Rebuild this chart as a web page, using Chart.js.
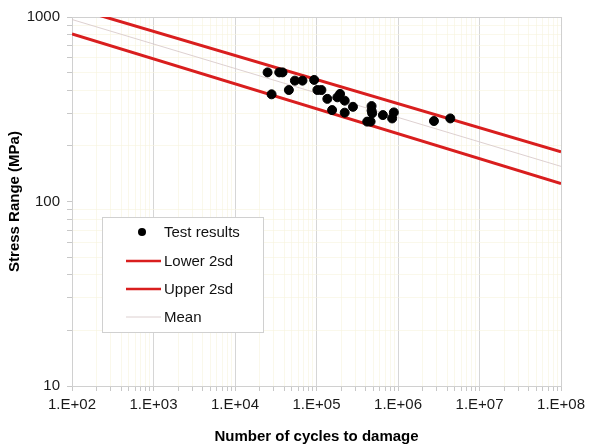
<!DOCTYPE html>
<html>
<head>
    <title>S-N curve</title>
    <script src="https://cdn.jsdelivr.net/npm/chart.js"></script>
    <style>
        html, body { margin: 0; padding: 0; background: #fff; }
        .container { width: 590px; height: 444px; }
    </style>
</head>
<body>
    <div class="container">
        <canvas id="snChart" width="590" height="444"></canvas>
    </div>
    <script>
        // test results
        const cycles = [25100, 34900, 38300, 28100, 45800, 54300, 67300, 93600, 102600, 114800,
                        135800, 155300, 180300, 194600, 221800, 221800, 280000, 474000, 474000, 482000,
                        419000, 461000, 652000, 889000, 847000, 2760000, 4380000];
        const stress = [501, 501, 501, 381, 402, 452, 452, 456, 402, 402,
                        360, 313, 367, 383, 352, 303, 326, 329, 311, 301,
                        271, 271, 294, 304, 282, 273, 282];

        // design lines (end points at N = 1e2 and 1e8)
        const lineCycles = [1e2, 1e8];
        const lower2sd = [809, 125];
        const upper2sd = [1129, 186];
        const meanLine = [969, 155];

        const xDecades = [1e2, 1e3, 1e4, 1e5, 1e6, 1e7, 1e8];
        const yDecades = [10, 100, 1000];

        const RED = '#d91e1e';
        const FONT = 'Arial, "Liberation Sans", sans-serif';
        const MINOR = 'rgba(246,243,222,0.6)';

        function toPoints(xs, ys) {
            return xs.map((x, i) => ({ x: x, y: ys[i] }));
        }

        function isDecade(v) {
            const l = Math.log10(v);
            return Math.abs(l - Math.round(l)) < 1e-9;
        }

        // major + minor ticks between the decades
        function logTicks(decades) {
            const out = [];
            for (let i = 0; i < decades.length; i++) {
                out.push({ value: decades[i] });
                if (i < decades.length - 1) {
                    for (let k = 2; k <= 9; k++) out.push({ value: decades[i] * k });
                }
            }
            return out;
        }

        function sciLabel(v) {
            const e = Math.round(Math.log10(v));
            return '1.E+' + String(e).padStart(2, '0');
        }

        // border round the plot area
        const plotBorder = {
            id: 'plotBorder',
            beforeDatasetsDraw(chart) {
                const a = chart.chartArea;
                const ctx = chart.ctx;
                ctx.save();
                ctx.strokeStyle = '#d0d0d0';
                ctx.lineWidth = 1;
                ctx.strokeRect(a.left + 0.5, a.top + 0.5, a.right - a.left, a.bottom - a.top);
                ctx.restore();
            }
        };

        // legend box inside the plot, like the excel one
        const boxLegend = {
            id: 'boxLegend',
            afterDatasetsDraw(chart) {
                const ctx = chart.ctx;
                const bx = 102, by = 217, bw = 161, bh = 115;
                ctx.save();
                ctx.fillStyle = '#fff';
                ctx.fillRect(bx, by, bw, bh);
                ctx.strokeStyle = '#d0d0d0';
                ctx.lineWidth = 1;
                ctx.strokeRect(bx + 0.5, by + 0.5, bw, bh);

                const rows = [232, 261, 289, 317];
                chart.data.datasets.forEach((ds, i) => {
                    const y = rows[i];
                    if (ds.showLine === false) {
                        ctx.fillStyle = ds.backgroundColor;
                        ctx.beginPath();
                        ctx.arc(142, y, 4, 0, Math.PI * 2);
                        ctx.fill();
                    } else {
                        ctx.strokeStyle = ds.borderColor;
                        ctx.lineWidth = Math.min(ds.borderWidth, 2.5);
                        ctx.beginPath();
                        ctx.moveTo(126, y);
                        ctx.lineTo(161, y);
                        ctx.stroke();
                    }
                    ctx.fillStyle = '#111';
                    ctx.font = '15px ' + FONT;
                    ctx.textBaseline = 'middle';
                    ctx.textAlign = 'left';
                    ctx.fillText(ds.label, 164, y + 1);
                });
                ctx.restore();
            }
        };

        const ctx = document.getElementById('snChart').getContext('2d');
        new Chart(ctx, {
            type: 'scatter',
            data: {
                datasets: [
                    {
                        label: 'Test results',
                        data: toPoints(cycles, stress),
                        showLine: false,
                        backgroundColor: '#000',
                        borderColor: '#000',
                        pointRadius: 4.5,
                        pointHoverRadius: 4.5,
                        order: 0
                    },
                    {
                        label: 'Lower 2sd',
                        data: toPoints(lineCycles, lower2sd),
                        showLine: true,
                        borderColor: RED,
                        backgroundColor: RED,
                        borderWidth: 3,
                        pointRadius: 0,
                        order: 1
                    },
                    {
                        label: 'Upper 2sd',
                        data: toPoints(lineCycles, upper2sd),
                        showLine: true,
                        borderColor: RED,
                        backgroundColor: RED,
                        borderWidth: 3,
                        pointRadius: 0,
                        order: 1
                    },
                    {
                        label: 'Mean',
                        data: toPoints(lineCycles, meanLine),
                        showLine: true,
                        borderColor: 'rgba(215,200,200,0.85)',
                        backgroundColor: 'rgba(215,200,200,0.85)',
                        borderWidth: 1,
                        pointRadius: 0,
                        order: 2
                    }
                ]
            },
            options: {
                responsive: false,
                animation: false,
                devicePixelRatio: 1,
                layout: { padding: { top: 17, right: 27, left: 0, bottom: 0 } },
                plugins: {
                    legend: { display: false },
                    tooltip: { enabled: false }
                },
                scales: {
                    x: {
                        type: 'logarithmic',
                        min: 1e2,
                        max: 1e8,
                        afterBuildTicks: (scale) => { scale.ticks = logTicks(xDecades); },
                        afterFit: (scale) => { scale.height = 58; },
                        ticks: {
                            autoSkip: false,
                            maxRotation: 0,
                            padding: 5,
                            color: '#1a1a1a',
                            font: { family: FONT, size: 15 },
                            callback: (v) => isDecade(v) ? sciLabel(v) : ''
                        },
                        grid: {
                            color: (c) => isDecade(c.tick.value) ? '#d6d6d6' : MINOR,
                            tickColor: '#c8c8c8',
                            tickLength: 5
                        },
                        border: { display: false },
                        title: {
                            display: true,
                            text: 'Number of cycles to damage',
                            color: '#000',
                            font: { family: FONT, size: 15, weight: 'bold', lineHeight: 1 },
                            padding: { top: 0, bottom: 0 }
                        }
                    },
                    y: {
                        type: 'logarithmic',
                        min: 10,
                        max: 1000,
                        afterBuildTicks: (scale) => { scale.ticks = logTicks(yDecades); },
                        afterFit: (scale) => { scale.width = 72; },
                        ticks: {
                            autoSkip: false,
                            padding: 7,
                            color: '#1a1a1a',
                            font: { family: FONT, size: 15 },
                            callback: (v) => isDecade(v) ? String(v) : ''
                        },
                        grid: {
                            color: (c) => isDecade(c.tick.value) ? 'rgba(0,0,0,0)' : MINOR,
                            tickColor: '#c8c8c8',
                            tickLength: 5
                        },
                        border: { display: false },
                        title: {
                            display: true,
                            text: 'Stress Range (MPa)',
                            color: '#000',
                            font: { family: FONT, size: 15, weight: 'bold' },
                            padding: { top: 6, bottom: 0 }
                        }
                    }
                }
            },
            plugins: [plotBorder, boxLegend]
        });
    </script>
</body>
</html>
